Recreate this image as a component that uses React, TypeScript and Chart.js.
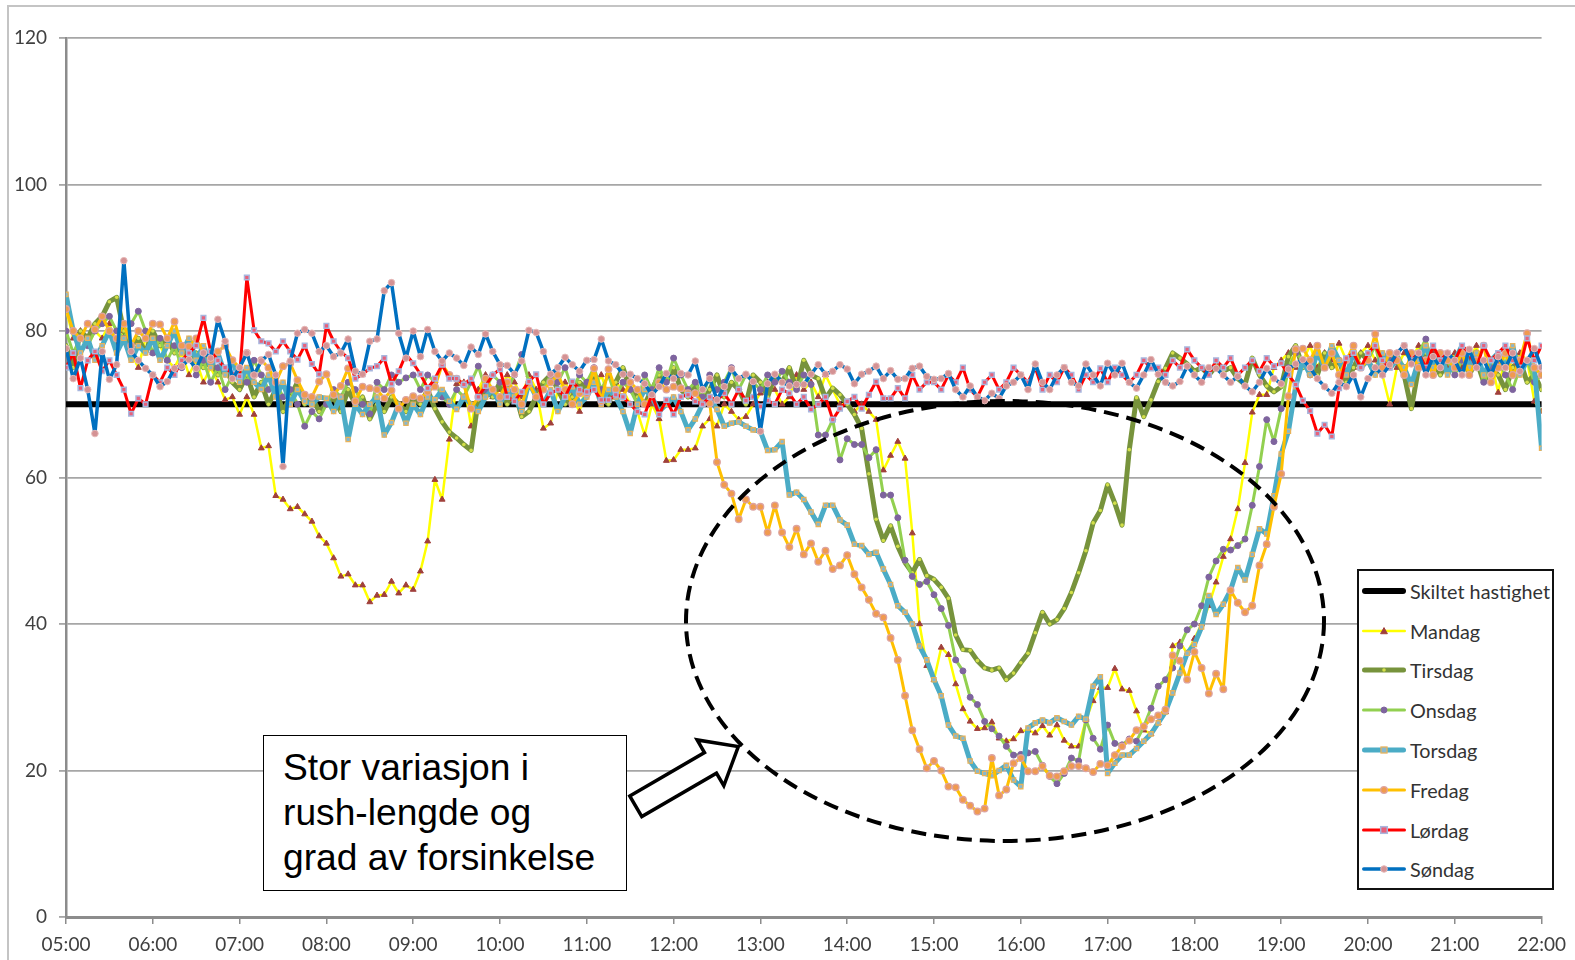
import React, { useEffect, useRef } from "react";
import { Chart, registerables } from "chart.js";

Chart.register(...registerables);

// ---------- DATA ----------
const hourLabels = [
  "05:00", "06:00", "07:00", "08:00", "09:00", "10:00", "11:00", "12:00", "13:00",
  "14:00", "15:00", "16:00", "17:00", "18:00", "19:00", "20:00", "21:00", "22:00",
];
const stepsPerHour = 12; // 5-minute intervals
const speedLimit = 70;

const mandag = [
  83, 79, 80, 78, 80, 79, 81, 78, 80, 77, 75, 79,
  77, 78, 76, 75, 77, 74, 76, 73, 75, 73, 70.6, 71,
  68.6, 71, 68.6, 64, 64.3, 57.5, 57, 55.7, 56, 55, 54, 52,
  51, 49, 46.5, 46.8, 45.3, 45.3, 43, 43.9, 44, 45.8, 44.2, 45.3,
  44.7, 47.2, 51.3, 59.7, 57, 65.2, 72.8, 73, 67, 72, 74, 71,
  72, 74, 73, 71, 74, 72, 66.7, 67.4, 72, 73, 71, 69,
  73, 72, 74, 71, 73, 72, 70, 69, 65.8, 70, 68, 62.3,
  62.4, 63.8, 63.8, 64, 67, 68, 67, 70, 69, 67.9, 68.3, 70,
  71.5, 73, 72, 70, 71, 74, 72, 73, 71, 74, 72, 70,
  70, 69, 70, 69, 67.9, 61, 63, 64.9, 62.6, 52.4, 40, 34.3,
  32.4, 36.8, 35.8, 31.8, 28.4, 26.7, 25.7, 25.8, 26.6, 24.4, 24, 24.3,
  25.4, 25.5, 25.1, 26.1, 24.8, 26.2, 24.1, 23.3, 23.3, 26.9, 29.5, 31.3,
  31.3, 33.9, 31.1, 30.9, 28.1, 25.5, 25, 26.5, 28, 37, 37.5, 36,
  38, 40, 42.5, 45.7, 49.2, 51.6, 55.7, 62, 68.9, 71.3, 71.3, 75,
  76, 77, 75, 76, 78, 75, 77, 76, 78.3, 76, 75, 77,
  78, 76, 74, 70, 75, 77, 76, 78, 75, 77, 76, 75,
  77, 75, 76, 78, 74, 76, 71.6, 77, 75, 77, 76, 70.4,
  69,
];

const tirsdag = [
  78, 75, 80, 79, 81, 82, 84, 84.6, 80, 78, 79, 77,
  80, 78, 79, 77, 78, 76, 77, 75, 76, 74, 75, 73,
  72, 74, 71, 73, 70, 72, 69, 71, 73, 70, 71, 69,
  70, 71, 69, 72, 70, 71, 68, 70, 69, 71, 70, 69,
  71, 70, 72, 69.4, 67.6, 66.2, 65.4, 64.5, 63.7, 70.6, 72, 71,
  73, 70, 72, 68.3, 69, 71, 73, 74, 72, 70, 71, 73,
  72, 74, 71, 70, 73, 75, 72, 71, 70, 72, 74, 73,
  75, 72, 71, 73, 70, 72, 74, 71, 73, 72, 70, 74,
  73, 71, 74, 73, 75, 72, 76, 74, 73.5, 70.8, 72.2, 71.3,
  70, 68.6, 66.7, 60.5, 54.3, 51.4, 53.4, 50.6, 48.4, 47, 48.8, 46.6,
  46.1, 45, 43.5, 38.5, 36.5, 36.4, 35, 34, 33.7, 34, 32.4, 33.3,
  34.7, 36, 38.8, 41.6, 40, 40.6, 42.1, 44.3, 47, 50, 53.8, 55.5,
  59, 56.5, 53.5, 63.8, 70.9, 68.3, 70.6, 73.1, 74.9, 77, 76.3, 75.5,
  74.5, 75, 74, 75.2, 74.5, 75, 73.5, 72.7, 76.3, 74, 72.5, 71.7,
  72.4, 76.5, 78, 75, 76, 74, 77, 75, 76, 73, 75, 77,
  76, 74, 77, 75, 76, 74, 69.4, 75, 77, 76, 74, 76,
  75, 77, 74, 76, 73, 75, 74, 72, 75, 76, 73, 74,
  72,
];

const onsdag = [
  80, 77, 79, 78, 80, 81, 82, 80, 79, 81, 82.7, 80,
  77, 79, 76, 78, 75, 77, 74, 76, 73, 75, 72, 74,
  75, 73, 76, 74, 72, 73, 71, 72, 70, 67, 69, 68,
  70, 72, 71, 73, 72, 70, 68.7, 73, 72, 74, 73, 73.6,
  74, 72, 74, 73, 71, 70, 72, 71, 73, 75.2, 72, 74,
  73, 72, 74, 76.8, 73, 71, 72, 74, 73, 75, 72, 74,
  73, 75, 72, 74, 71, 73, 72, 70, 74, 72, 75, 73,
  76.3, 74, 72, 73, 71, 74, 72, 73, 75, 72, 74, 73,
  72, 74, 73, 74.5, 73, 72, 74, 72.7, 65.8, 65.8, 67.9, 62.4,
  65.3, 64.5, 64.5, 62.7, 63.8, 57.6, 57.6, 54.5, 48.7, 46.5, 45.4, 45.8,
  44, 42.1, 39.8, 35.1, 33.6, 30, 29, 26.7, 25.7, 24.7, 23.3, 22.1,
  22.2, 22.4, 22.6, 20.7, 19.2, 18.2, 19.6, 21.7, 21.3, 26.9, 24.4, 22.9,
  26.2, 23.7, 23.5, 24.3, 24, 26, 28.5, 31.5, 32.4, 34, 37, 39.2,
  40, 42.5, 46.4, 48.6, 50.2, 50.1, 50.7, 51.6, 56.2, 61.5, 67.9, 64.9,
  69.4, 75, 77, 76, 74, 78, 75, 77, 76, 74, 77, 75,
  76, 78, 74, 76, 77, 75, 76, 77, 78.9, 75, 77, 76,
  74, 76, 75, 77, 73, 75, 76, 74, 72, 75, 76, 73,
  74,
];

const torsdag = [
  85, 80, 77, 79, 76, 78, 80, 77, 79, 76, 78, 77,
  79, 76, 78, 80, 77, 79, 76, 78, 75, 77, 74, 76,
  73, 75, 73, 72, 74, 71, 73, 70, 72, 70.4, 70, 71,
  70.8, 69, 71, 65.2, 70, 68.6, 70, 71, 65.8, 67.5, 70, 67.4,
  70, 68.6, 71, 70.6, 72, 70.4, 69.3, 71, 70, 69, 71, 72,
  70, 72, 71, 69, 73, 71, 70, 72, 69, 71, 72.4, 70,
  71, 73, 70, 72, 71, 69, 66, 70, 72, 71, 69, 70,
  71, 69, 66.5, 68, 70, 71, 69.3, 67, 67.4, 67.6, 67, 66.5,
  66.3, 63.7, 63.8, 64.9, 57.6, 58, 57, 55.3, 53.6, 56.2, 56.2, 54.2,
  53.5, 50.9, 50.7, 49.5, 49.8, 47.5, 45.4, 42.5, 41.6, 40, 37, 35.1,
  32.4, 30.2, 26.2, 24.7, 24.4, 21.3, 19.9, 19.6, 19.3, 20, 20.7, 18.7,
  17.8, 25.8, 26.5, 26.9, 26.5, 27.2, 26.7, 26.2, 27.4, 27, 31.5, 32.8,
  19.6, 21, 22.1, 22.1, 23, 24, 25, 26.5, 28, 30.6, 33.3, 36,
  37.2, 39.6, 43.9, 41.3, 42.7, 44.6, 47.7, 46, 49.5, 53, 52.3, 57.5,
  63.2, 66.3, 72.4, 76, 74, 77, 75, 78, 76, 74, 77, 75,
  76, 74, 77, 75, 76, 75, 72.7, 76, 78, 75, 77, 74,
  76, 78, 75, 77, 74, 76, 77, 75, 78, 74, 76, 75,
  64,
];

const fredag = [
  83, 80, 79, 81, 80.2, 82, 80, 79, 81, 78, 80, 79,
  81, 80.9, 79, 81.3, 78, 77.9, 79, 77, 76, 77.2, 78, 76,
  75, 77, 74, 76, 75, 73, 75.2, 75.6, 73.3, 71.3, 71, 73.1,
  74.1, 71.3, 72.5, 74.9, 70.4, 72.4, 72.2, 72, 70.8, 71.9, 69.4, 70.6,
  71.1, 70.8, 71.7, 72.4, 75.4, 74, 73.5, 72.7, 69.4, 71, 73.5, 72,
  71, 73, 72, 70, 72.8, 71, 72, 73, 74, 72, 70, 71.5,
  71.5, 74.9, 70.4, 74.8, 72, 71, 73, 72, 70, 71, 73, 72,
  72.4, 72.2, 71.5, 71.5, 70.1, 70.1, 62.1, 59, 57.8, 54.3, 57, 56,
  56, 52.5, 56.2, 52.5, 50.5, 53, 49.5, 51, 48.5, 50, 47.5, 48,
  49.4, 46.8, 45, 43.3, 41.4, 40.9, 38.1, 35.1, 30.2, 25.5, 22.9, 20.3,
  21.3, 20, 17.8, 17.7, 16, 15.2, 14.4, 14.8, 21.7, 16.6, 17.4, 21,
  21.7, 19.9, 19.9, 20.6, 19.3, 19.2, 19.9, 20.6, 20.6, 20.3, 19.8, 20.9,
  20.7, 22.1, 23.3, 24.1, 25.5, 26, 27, 27.5, 28.3, 35.7, 35, 32.4,
  36.2, 34, 30.5, 33.2, 31.1, 44.6, 42.9, 41.6, 42.5, 48, 50.9, 56,
  60.5, 71.1, 77.5, 77.6, 76, 78, 75, 77, 74, 76, 78, 75,
  76, 79.6, 75, 77, 76, 74, 77, 75, 76, 74, 77, 76,
  75, 77, 74, 76, 78, 73, 75, 77, 74, 76, 79.7, 75,
  74,
];

const lordag = [
  75, 77, 72.2, 76, 77.2, 74.5, 76, 74, 72, 68.7, 70.8, 70,
  74, 73, 75, 74, 76, 77, 78, 81.8, 77.2, 76, 75, 74.2,
  73.8, 87.3, 80.1, 78.6, 78.3, 77.2, 78.6, 77.2, 76.1, 78, 75.5, 74.1,
  80.7, 78.6, 77.2, 76.3, 73.5, 74.1, 74.9, 75.2, 76.3, 72.8, 74.5, 76.8,
  75.6, 74.1, 72.2, 73.5, 75.4, 73.5, 73.5, 72.7, 73.5, 71, 72.5, 74,
  74.8, 71, 70.4, 71.7, 73.1, 74.1, 70, 71.5, 72, 71, 73.1, 72,
  71.7, 72, 70.6, 70.6, 71.3, 71, 70, 69, 68.6, 71.3, 68.6, 70.6,
  68.6, 71, 71.3, 70.4, 70, 71, 70.5, 71.5, 70, 72, 70.5, 71,
  69.7, 70.5, 70, 72, 71.5, 70, 71, 69.3, 70, 71, 67.9, 69.4,
  70.4, 71, 69.4, 71.3, 73.1, 70.8, 70.8, 72.2, 70.8, 74, 72, 73,
  73, 72, 74, 73, 75, 72, 71, 73, 74, 72, 73, 75,
  74, 73, 75, 72, 74, 73, 75, 74, 72, 74, 73, 74.9,
  73, 75, 74, 73, 74, 76, 74.9, 75, 74, 76, 75, 77.5,
  76, 75, 74, 76, 75, 76.3, 74, 75, 76, 74.5, 76.3, 75.2,
  75.6, 74, 72.7, 70.5, 69.1, 66, 67.2, 65.6, 72.2, 76.3, 77, 75,
  77, 78, 76, 75, 77, 78, 76, 77, 75, 78, 76, 77,
  76, 78, 77, 75, 78, 76, 77, 78, 76, 75, 79, 76,
  78,
];

const sondag = [
  77.6, 73.5, 76.3, 72, 66, 77.2, 73.4, 75.4, 89.6, 77.2, 76, 74.9,
  74, 72.4, 73.1, 74.9, 75.2, 76.1, 74.9, 77, 76.3, 81.6, 78.6, 73.5,
  75, 77, 74, 75.9, 76.8, 74, 61.5, 75.9, 79.7, 80.2, 79.7, 77.2,
  78, 76.5, 77, 78.9, 74.5, 74.1, 78.6, 78.9, 85.5, 86.6, 79.7, 76.3,
  80, 76.5, 80.2, 77.2, 75.9, 77, 76.3, 75.3, 77.8, 76.8, 79.6, 77.2,
  75.4, 75.3, 74.1, 75.9, 80.1, 79.8, 77.2, 74.1, 75, 76.4, 75.4, 74.5,
  76, 76.1, 78.9, 75.9, 75.4, 74.1, 74.1, 73.5, 72.8, 71.3, 72.4, 74.2,
  73.5, 74.2, 74, 75.9, 72, 73.5, 70.6, 72.4, 74.8, 73.5, 74.1, 73.1,
  66.3, 72.8, 74.1, 73, 72.5, 72.7, 72.7, 74.1, 75.4, 74.1, 74.5, 75.4,
  74.8, 72.8, 74.1, 74.5, 75.2, 73.5, 74.6, 73.4, 73.5, 74.9, 75.2, 73.8,
  73.4, 73.5, 74.2, 72, 71, 72.5, 71, 70.5, 71.5, 70.8, 72.5, 73,
  74, 72, 75.5, 73, 72, 74, 75, 73, 72.5, 75.5, 74, 72.5,
  75.6, 74, 75.6, 73, 72.2, 74, 76.1, 74.1, 73, 72.5, 73.1, 75.2,
  74, 73, 75, 74.9, 74, 73, 73.8, 72.5, 71.7, 73, 74.9, 73.5,
  72.8, 74.8, 75.5, 76.1, 75, 73.5, 72.4, 71.5, 73, 72.4, 74, 71,
  73.5, 75, 74, 75.4, 77, 78, 75.5, 77, 74, 76.5, 75, 77,
  76, 74, 77.5, 75, 76, 74, 76.5, 75, 77, 74.5, 76, 77.6,
  75,
];

const seriesNames = [
  "Skiltet hastighet", "Mandag", "Tirsdag", "Onsdag", "Torsdag", "Fredag", "Lørdag", "Søndag",
];
const seriesValues = [null, mandag, tirsdag, onsdag, torsdag, fredag, lordag, sondag];

const annotationLines = ["Stor variasjon i", "rush-lengde og", "grad av forsinkelse"];

// ---------- STYLES ----------
type SeriesStyle = {
  color: string;
  width: number;
  point: "none" | "triangle" | "circle" | "rect";
  radius: number;
  fill: string;
  stroke: string;
  strokeWidth: number;
};

const seriesStyles: SeriesStyle[] = [
  { color: "#000000", width: 6, point: "none", radius: 0, fill: "#000", stroke: "#000", strokeWidth: 0 },
  { color: "#FFFF00", width: 2.5, point: "triangle", radius: 3.4, fill: "#A0403C", stroke: "#A0403C", strokeWidth: 1 },
  { color: "#77933C", width: 5, point: "circle", radius: 1.8, fill: "#D4E04A", stroke: "#D4E04A", strokeWidth: 0 },
  { color: "#92D050", width: 3, point: "circle", radius: 3, fill: "#7E649E", stroke: "#7E649E", strokeWidth: 1 },
  { color: "#4BACC6", width: 5, point: "rect", radius: 3, fill: "#86B8CF", stroke: "#E8B25A", strokeWidth: 1.3 },
  { color: "#FFC000", width: 3, point: "circle", radius: 3.3, fill: "#F09A50", stroke: "#DDA3A0", strokeWidth: 1.3 },
  { color: "#FF0000", width: 3, point: "rect", radius: 3.3, fill: "#E8607A", stroke: "#A8B6DE", strokeWidth: 1.5 },
  { color: "#0070C0", width: 3.5, point: "circle", radius: 3.3, fill: "#D49294", stroke: "#E6B9B8", strokeWidth: 1 },
];

const FONT = "Lato, 'Open Sans', sans-serif";

function LegendSample({ s }: { s: SeriesStyle }) {
  const w = 46;
  const h = 14;
  const cy = h / 2;
  const cx = w / 2;
  let marker: React.ReactNode = null;
  if (s.point === "circle") {
    marker = <circle cx={cx} cy={cy} r={Math.max(s.radius, 1.8)} fill={s.fill} stroke={s.stroke} strokeWidth={s.strokeWidth} />;
  } else if (s.point === "rect") {
    const r = s.radius;
    marker = <rect x={cx - r} y={cy - r} width={2 * r} height={2 * r} fill={s.fill} stroke={s.stroke} strokeWidth={s.strokeWidth} />;
  } else if (s.point === "triangle") {
    const r = s.radius;
    marker = (
      <polygon
        points={`${cx},${cy - r} ${cx - r},${cy + r * 0.8} ${cx + r},${cy + r * 0.8}`}
        fill={s.fill}
        stroke={s.stroke}
        strokeWidth={s.strokeWidth}
      />
    );
  }
  return (
    <svg width={w} height={h} style={{ display: "block", flex: "0 0 auto" }}>
      <line x1={s.width / 2 + 1} y1={cy} x2={w - s.width / 2 - 1} y2={cy} stroke={s.color} strokeWidth={s.width} strokeLinecap="round" />
      {marker}
    </svg>
  );
}

export default function App() {
  const canvasRef = useRef<HTMLCanvasElement | null>(null);

  useEffect(() => {
    const canvas = canvasRef.current;
    if (!canvas) return;
    const lastIndex = mandag.length - 1;

    const datasets = seriesNames.map((name, k) => {
      const s = seriesStyles[k];
      const values = seriesValues[k];
      const data = values
        ? values.map((y, x) => ({ x, y }))
        : [
            { x: 0, y: speedLimit },
            { x: lastIndex, y: speedLimit },
          ];
      return {
        label: name,
        data,
        borderColor: s.color,
        backgroundColor: s.color,
        borderWidth: s.width,
        tension: 0,
        fill: false,
        pointStyle: s.point === "none" ? false : s.point,
        pointRadius: s.point === "none" ? 0 : s.radius,
        pointHoverRadius: s.point === "none" ? 0 : s.radius,
        pointBackgroundColor: s.fill,
        pointBorderColor: s.stroke,
        pointBorderWidth: s.strokeWidth,
        order: k === 0 ? 20 : 10 - k,
        borderCapStyle: "round",
        borderJoinStyle: "round",
      } as any;
    });

    const chart = new Chart(canvas, {
      type: "line",
      data: { datasets },
      options: {
        responsive: false,
        animation: false,
        devicePixelRatio: 1,
        layout: { padding: { left: 0, right: 27, top: 38, bottom: 0 } },
        plugins: {
          legend: { display: false },
          tooltip: { enabled: false },
        },
        scales: {
          x: {
            type: "linear",
            min: 0,
            max: (hourLabels.length - 1) * stepsPerHour,
            ticks: {
              stepSize: stepsPerHour,
              autoSkip: false,
              maxRotation: 0,
              color: "#404040",
              font: { family: FONT, size: 19 },
              padding: 9,
              callback: (v: any) => {
                const h = Number(v) / stepsPerHour;
                return Number.isInteger(h) ? hourLabels[h] : "";
              },
            },
            grid: {
              display: true,
              drawOnChartArea: false,
              drawTicks: true,
              tickLength: 7,
              color: "#8c8c8c",
              lineWidth: 1.5,
            },
            border: { display: true, color: "#8c8c8c", width: 3 },
            afterFit: (s: any) => {
              s.height = 43;
            },
          },
          y: {
            min: 0,
            max: 120,
            ticks: {
              stepSize: 20,
              color: "#404040",
              font: { family: FONT, size: 19 },
              padding: 12,
            },
            grid: {
              color: "#a6a6a6",
              lineWidth: 1.8,
              drawTicks: true,
              tickLength: 7,
            },
            border: { display: true, color: "#8c8c8c", width: 2.5 },
            afterFit: (s: any) => {
              s.width = 66;
            },
          },
        },
      } as any,
    });

    return () => chart.destroy();
  }, []);

  // ellipse & arrow geometry (annotation, in page pixels)
  const ell = { cx: 1005, cy: 621, rx: 319, ry: 220 };
  const arrow = { x: 635.8, y: 806.3, angle: -30.2, len: 118.6, shaft: 11.9, head: 26.5, headStart: 86.4 };
  const arrowPts = [
    [0, -arrow.shaft],
    [arrow.headStart, -arrow.shaft],
    [arrow.headStart, -arrow.head],
    [arrow.len, 0],
    [arrow.headStart, arrow.head],
    [arrow.headStart, arrow.shaft],
    [0, arrow.shaft],
  ]
    .map((p) => p.join(","))
    .join(" ");

  return (
    <div
      style={{
        position: "fixed",
        left: 0,
        top: 0,
        width: 1575,
        height: 960,
        overflow: "hidden",
        background: "#ffffff",
      }}
    >
      <div
        style={{
          position: "absolute",
          left: 7,
          top: 5,
          width: 1700,
          height: 1100,
          border: "2px solid #c4c4c4",
          boxSizing: "border-box",
        }}
      />
      <canvas
        ref={canvasRef}
        width={1575}
        height={960}
        style={{ position: "absolute", left: 0, top: 0, width: 1575, height: 960, display: "block" }}
      />
      <svg
        width={1575}
        height={960}
        style={{ position: "absolute", left: 0, top: 0, pointerEvents: "none" }}
      >
        <ellipse
          cx={ell.cx}
          cy={ell.cy}
          rx={ell.rx}
          ry={ell.ry}
          fill="none"
          stroke="#000"
          strokeWidth={4}
          strokeDasharray="15 8"
        />
        <g transform={`translate(${arrow.x},${arrow.y}) rotate(${arrow.angle})`}>
          <polygon points={arrowPts} fill="#fff" stroke="#000" strokeWidth={3.5} strokeLinejoin="miter" />
        </g>
      </svg>
      <div
        style={{
          position: "absolute",
          left: 263,
          top: 735,
          width: 364,
          height: 156,
          boxSizing: "border-box",
          border: "1.5px solid #000",
          background: "#fff",
          paddingLeft: 19,
          paddingTop: 9,
          fontFamily: "'Liberation Sans', Arial, sans-serif",
          fontSize: 37.2,
          lineHeight: "45px",
          color: "#000",
          whiteSpace: "nowrap",
        }}
      >
        {annotationLines.map((t) => (
          <div key={t}>{t}</div>
        ))}
      </div>
      <div
        style={{
          position: "absolute",
          left: 1357,
          top: 569,
          width: 197,
          height: 321,
          boxSizing: "border-box",
          border: "2px solid #111",
          background: "#fff",
          paddingTop: 0,
        }}
      >
        {seriesNames.map((name, k) => (
          <div
            key={name}
            style={{
              display: "flex",
              alignItems: "center",
              height: 39.8,
              paddingLeft: 2,
            }}
          >
            <LegendSample s={seriesStyles[k]} />
            <span
              style={{
                marginLeft: 3,
                fontFamily: FONT,
                fontSize: 19.8,
                color: "#333",
                whiteSpace: "nowrap",
                lineHeight: "20px",
              }}
            >
              {name}
            </span>
          </div>
        ))}
      </div>
    </div>
  );
}
